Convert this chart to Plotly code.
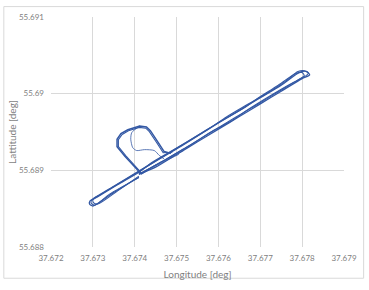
import plotly.graph_objects as go

# ---- data (degrees) ----
lap1_lon = [37.6741, 37.6745, 37.6750, 37.6755, 37.6760, 37.6765, 37.6770, 37.6775, 37.6780,
            37.67818, 37.67810, 37.67795,
            37.6775, 37.6770, 37.6765, 37.6760, 37.6755, 37.6750, 37.6745, 37.6741,
            37.6735, 37.6730, 37.67293, 37.67292, 37.67300, 37.6735, 37.6741]
lap1_lat = [55.688950, 55.689042, 55.689207, 55.689372, 55.689537, 55.689702, 55.689867, 55.690032, 55.690197,
            55.690245, 55.690290, 55.690280,
            55.690112, 55.689947, 55.689782, 55.689617, 55.689452, 55.689287, 55.689122, 55.688990,
            55.688792, 55.688627, 55.688600, 55.688560, 55.688535, 55.688712, 55.688910]

lap2_lon = [37.6741, 37.6746, 37.6752, 37.6758, 37.6764, 37.6769, 37.6774, 37.6779,
            37.67805, 37.67800, 37.67785,
            37.6774, 37.6769, 37.6766, 37.6761, 37.6755, 37.6749, 37.6744, 37.6741,
            37.6736, 37.6731, 37.67300, 37.67302, 37.67312, 37.6736, 37.6741]
lap2_lat = [55.688950, 55.689095, 55.689290, 55.689490, 55.689690, 55.689850, 55.690015, 55.690180,
            55.690235, 55.690275, 55.690262,
            55.690100, 55.689925, 55.689810, 55.689655, 55.689455, 55.689260, 55.689100, 55.688975,
            55.688815, 55.688650, 55.688615, 55.688575, 55.688560, 55.688735, 55.688925]

lap3_lon = [37.6741, 37.6747, 37.6753, 37.6759, 37.6763, 37.6767, 37.6772, 37.6777, 37.67805,
            37.67815, 37.67805, 37.67790,
            37.6776, 37.6771, 37.6766, 37.6762, 37.6757, 37.6751, 37.6746, 37.6741,
            37.6737, 37.6732, 37.67297, 37.67296, 37.67305, 37.6734, 37.6741]
lap3_lat = [55.688950, 55.689130, 55.689320, 55.689525, 55.689640, 55.689790, 55.689960, 55.690120, 55.690220,
            55.690265, 55.690300, 55.690288,
            55.690160, 55.689985, 55.689830, 55.689700, 55.689515, 55.689310, 55.689150, 55.688985,
            55.688855, 55.688690, 55.688610, 55.688570, 55.688545, 55.688690, 55.688905]

loop1_lon = [37.674867, 37.674703, 37.674539, 37.674374, 37.674281, 37.674117, 37.673835, 37.673671,
             37.673578, 37.673578, 37.673765, 37.674023, 37.674164]
loop1_lat = [55.689221, 55.689245, 55.689381, 55.689517, 55.689566, 55.689578, 55.689529, 55.689480,
             55.689406, 55.689307, 55.689184, 55.689036, 55.688950]

loop2_lon = [37.674900, 37.674680, 37.674515, 37.674350, 37.674265, 37.674110, 37.673850, 37.673700,
             37.673610, 37.673610, 37.673790, 37.674045, 37.674180]
loop2_lat = [55.689235, 55.689230, 55.689370, 55.689505, 55.689550, 55.689560, 55.689515, 55.689468,
             55.689400, 55.689310, 55.689190, 55.689040, 55.688955]

inner_lon = [37.674117, 37.673929, 37.673906, 37.673953, 37.674046, 37.674234, 37.674468, 37.674585, 37.674703]
inner_lat = [55.689578, 55.689492, 55.689406, 55.689295, 55.689258, 55.689270, 55.689258, 55.689196, 55.689147]

fan1_lon = [37.674164, 37.674351, 37.674585, 37.674867, 37.675171]
fan1_lat = [55.688950, 55.689023, 55.689097, 55.689171, 55.689258]
fan2_lon = [37.674164, 37.674468, 37.674773, 37.675054]
fan2_lat = [55.688950, 55.689048, 55.689134, 55.689208]

x_ticks = [37.672, 37.673, 37.674, 37.675, 37.676, 37.677, 37.678, 37.679]
x_labels = ["37.672", "37.673", "37.674", "37.675", "37.676", "37.677", "37.678", "37.679"]
y_ticks = [55.688, 55.689, 55.690, 55.691]
y_labels = ["55.688", "55.689", "55.69", "55.691"]

COLOR = "#3358A4"
FONT = "Lato, 'Open Sans', sans-serif"

fig = go.Figure()
traces = [
    (lap1_lon, lap1_lat, 1.3, "spline"), (lap2_lon, lap2_lat, 1.1, "spline"), (lap3_lon, lap3_lat, 1.1, "spline"),
    (loop1_lon, loop1_lat, 1.5, "linear"), (loop2_lon, loop2_lat, 1.1, "linear"),
    (inner_lon, inner_lat, 0.8, "spline"), (fan1_lon, fan1_lat, 0.8, "spline"), (fan2_lon, fan2_lat, 0.8, "spline"),
]
for lo, la, w, sh in traces:
    line = dict(color=COLOR, width=w, shape=sh)
    if sh == "spline":
        line["smoothing"] = 0.7
    fig.add_trace(go.Scatter(x=lo, y=la, mode="lines", line=line,
                             showlegend=False, hoverinfo="skip"))

axis_common = dict(showgrid=True, gridcolor="#D9D9D9", gridwidth=1, zeroline=False,
                   showline=False, ticks="", tickfont=dict(family=FONT, size=8, color="#7F7F7F"),
                   title_font=dict(family=FONT, size=10, color="#7F7F7F"))

fig.update_layout(
    width=369, height=290,
    margin=dict(l=49, r=21, t=12, b=35),
    paper_bgcolor="white", plot_bgcolor="white",
    xaxis=dict(range=[37.672, 37.679], tickvals=x_ticks, ticktext=x_labels, ticklabelstandoff=5,
               title=dict(text="Longitude [deg]", standoff=8), **axis_common),
    yaxis=dict(range=[55.688, 55.691], tickvals=y_ticks, ticktext=y_labels, ticklabelstandoff=6,
               title=dict(text="Lattitude [deg]", standoff=0), **axis_common),
    shapes=[dict(type="rect", xref="paper", yref="paper",
                 x0=-0.161, x1=1.067, y0=-0.1358, y1=1.0453,
                 line=dict(color="#D9D9D9", width=1))],
)

fig.write_html("out.html")
